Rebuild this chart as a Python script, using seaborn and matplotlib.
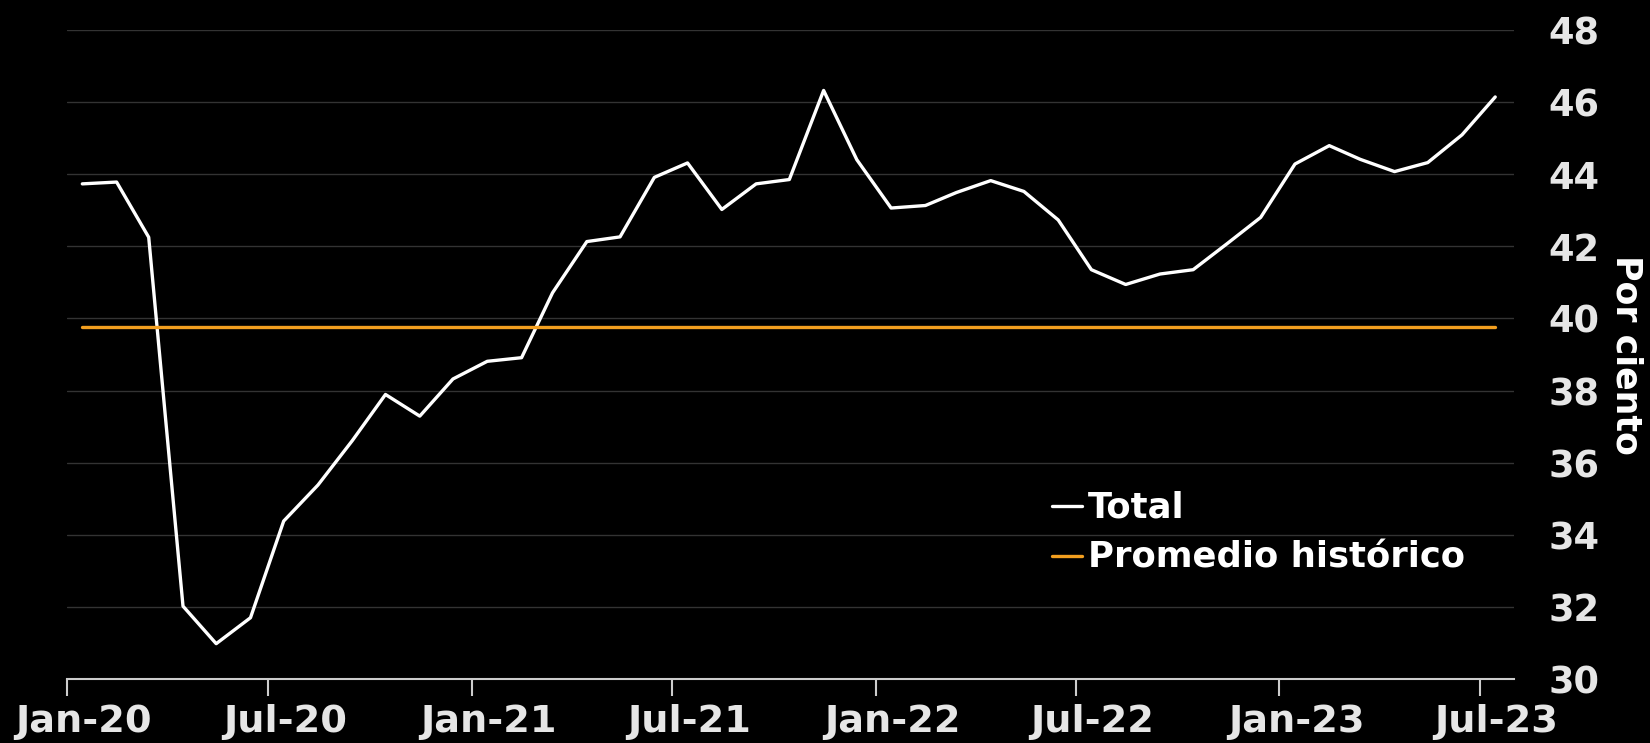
import matplotlib
matplotlib.use("Agg")
import matplotlib.pyplot as plt
import matplotlib.dates as mdates
import seaborn as sns
import numpy as np
import pandas as pd

# monthly values, Jan-20 .. Jul-23 (por ciento)
meses = pd.date_range("2020-01-01", periods=43, freq="MS") + pd.Timedelta(days=14)
total = [43.73, 43.78, 42.25, 32.02, 30.98, 31.70, 34.38, 35.38, 36.61, 37.89,
         37.29, 38.32, 38.81, 38.91, 40.71, 42.13, 42.26, 43.91, 44.31, 43.02,
         43.73, 43.85, 46.32, 44.40, 43.06, 43.13, 43.49, 43.82, 43.52, 42.73,
         41.35, 40.94, 41.23, 41.35, 42.08, 42.80, 44.28, 44.79, 44.41, 44.07,
         44.32, 45.09, 46.14]
promedio = 39.77
y_ticks = [30, 32, 34, 36, 38, 40, 42, 44, 46, 48]

df = pd.DataFrame({"fecha": meses, "total": total})
df["promedio"] = promedio

sns.set_style("dark")
plt.rcParams["font.family"] = ["DejaVu Sans"]
plt.rcParams["font.weight"] = "bold"

fig = plt.figure(figsize=(16.5, 7.43), dpi=100, facecolor="black")
ax = fig.add_axes([0.0405, 0.0861, 0.8771, 0.8737])
ax.set_facecolor("black")

sns.lineplot(data=df, x="fecha", y="total", color="white", linewidth=2.4,
             label="Total", ax=ax)
sns.lineplot(data=df, x="fecha", y="promedio", color="#F39F1F", linewidth=2.4,
             label="Promedio histórico", ax=ax)

ax.set_xlim(pd.Timestamp("2020-01-01"), pd.Timestamp("2023-08-01"))
ax.set_ylim(30, 48)
ax.set_yticks(y_ticks)
ax.yaxis.tick_right()
ax.yaxis.set_label_position("right")
ax.tick_params(axis="y", length=0, pad=25, labelsize=26.5, labelcolor="#e6e6e6")
ax.grid(axis="y", color="#333333", linewidth=1)
ax.grid(axis="x", visible=False)

# ticks at Jan/Jul, labels centred mid-month
ax.xaxis.set_major_locator(mdates.MonthLocator(bymonth=[1, 7]))
ax.xaxis.set_major_formatter(plt.NullFormatter())
ax.xaxis.set_minor_locator(mdates.MonthLocator(bymonth=[1, 7], bymonthday=16))
ax.xaxis.set_minor_formatter(mdates.DateFormatter("%b-%y"))
ax.tick_params(axis="x", which="major", length=12, width=1.5, color="#cccccc",
               direction="out", bottom=True)
ax.tick_params(axis="x", which="minor", length=0, pad=18, labelsize=27.5,
               labelcolor="#e6e6e6")

for s in ["top", "left", "right"]:
    ax.spines[s].set_visible(False)
ax.spines["bottom"].set_color("#cccccc")
ax.spines["bottom"].set_linewidth(1.5)

ax.set_xlabel("")
ax.set_ylabel("Por ciento", color="white", fontsize=25, fontweight="bold",
              rotation=270, va="center", ha="center")
ax.yaxis.set_label_coords(1.0774, 0.5)

leg = ax.legend(loc="center left", bbox_to_anchor=(0.681, 0.225), frameon=False,
                fontsize=25.5, handlelength=0.85, handletextpad=0.15,
                labelspacing=0.45, borderpad=0, borderaxespad=0)
for t in leg.get_texts():
    t.set_color("white")
    t.set_fontweight("bold")

fig.savefig("out.png", dpi=100, facecolor="black")
